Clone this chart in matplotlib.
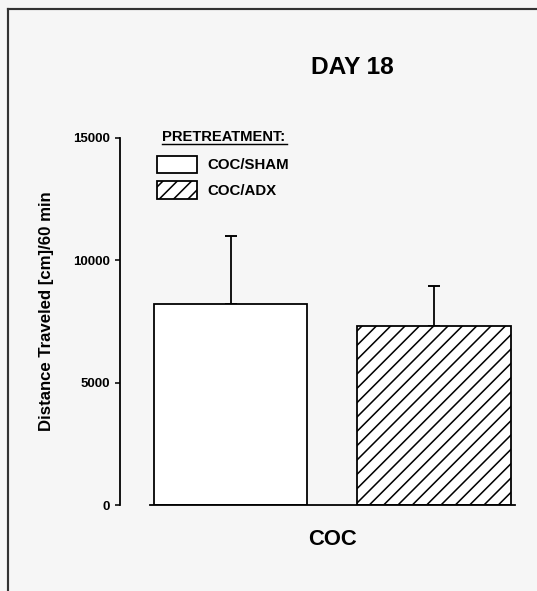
import matplotlib
matplotlib.use("Agg")
import matplotlib.pyplot as plt
from matplotlib.lines import Line2D

# ---- data ----
groups = ["COC/SHAM", "COC/ADX"]
means = [8200, 7330]
err_upper = [2800, 1620]
hatches = ["", "//"]
yticks = [0, 5000, 10000, 15000]
category = "COC"
title = "DAY 18"
ylabel = "Distance Traveled [cm]/60 min"
legend_title = "PRETREATMENT:"

DPI = 86
W, H = 537, 591


def pt(px):
    return px * 72.0 / DPI


plt.rcParams["font.family"] = ["Liberation Sans", "DejaVu Sans"]
plt.rcParams["font.weight"] = "bold"
plt.rcParams["hatch.linewidth"] = 1.3

bg = "#f6f6f6"
fig = plt.figure(figsize=(W / DPI, H / DPI), dpi=DPI, facecolor=bg)

# axes in pixel geometry
ax_left, ax_right, ax_top, ax_bot = 120, 520, 138, 505
ax = fig.add_axes([ax_left / W, (H - ax_bot) / H, (ax_right - ax_left) / W, (ax_bot - ax_top) / H])
ax.set_facecolor("none")

unit = 203.5  # pixels per category unit
c0 = 230.5
ax.set_xlim((ax_left - c0) / unit, (ax_right - c0) / unit)
ax.set_ylim(0, 15000)

xs = [0, 1]
bars = ax.bar(xs, means, width=0.754, color="white", edgecolor="black",
              linewidth=1.5, zorder=2)
for b, h in zip(bars, hatches):
    b.set_hatch(h)

ax.errorbar(xs, means, yerr=[[0, 0], err_upper], fmt="none", ecolor="black",
            elinewidth=1.5, capsize=pt(6), capthick=1.6, zorder=1)

for s in ["top", "right"]:
    ax.spines[s].set_visible(False)
ax.spines["left"].set_linewidth(1.5)
ax.spines["bottom"].set_linewidth(1.5)
ax.spines["left"].set_bounds(0, 15000)
ax.spines["bottom"].set_bounds((150 - c0) / unit, (515 - c0) / unit)

ax.set_yticks(yticks)
ax.set_yticklabels([str(v) for v in yticks], fontsize=pt(13.2), fontweight="bold")
ax.tick_params(axis="y", direction="out", length=pt(5), width=1.3, pad=pt(5))

ax.set_xticks([0.5])
ax.set_xticklabels([category], fontsize=pt(22), fontweight="bold")
ax.tick_params(axis="x", length=0, pad=pt(24))

ax.set_ylabel(ylabel, fontsize=pt(16.8), fontweight="bold", va="center")
ax.yaxis.set_label_coords((47 - ax_left) / (ax_right - ax_left),
                          (ax_bot - 311) / (ax_bot - ax_top))

fig.text(352 / W, 1 - 68 / H, title, ha="center", va="center",
         fontsize=pt(24.5), fontweight="bold")

# legend
fs = 15.0
fs_pt = pt(fs)
leg = ax.legend(bars, groups, loc="upper left",
                bbox_to_anchor=(157 / W, 1 - 155.5 / H),
                bbox_transform=fig.transFigure, frameon=False,
                fontsize=fs_pt, handlelength=40 / fs, handleheight=17.5 / fs_pt,
                handletextpad=10 / fs, labelspacing=0.58, borderpad=0,
                borderaxespad=0)
for t in leg.get_texts():
    t.set_fontweight("bold")

fig.text(162 / W, 1 - 137 / H, legend_title, ha="left", va="center",
         fontsize=pt(14.8), fontweight="bold")
fig.add_artist(Line2D([162 / W, 287 / W], [1 - 144.5 / H, 1 - 144.5 / H],
                      transform=fig.transFigure, color="black", lw=1.2))

# scanned-page frame (left and top edges)
fig.add_artist(Line2D([8 / W, 8 / W], [0, 1 - 9 / H], transform=fig.transFigure,
                      color="#333333", lw=1.8))
fig.add_artist(Line2D([8 / W, 1], [1 - 9 / H, 1 - 9 / H], transform=fig.transFigure,
                      color="#333333", lw=1.8))

fig.savefig("out.png", dpi=DPI, facecolor=bg)
